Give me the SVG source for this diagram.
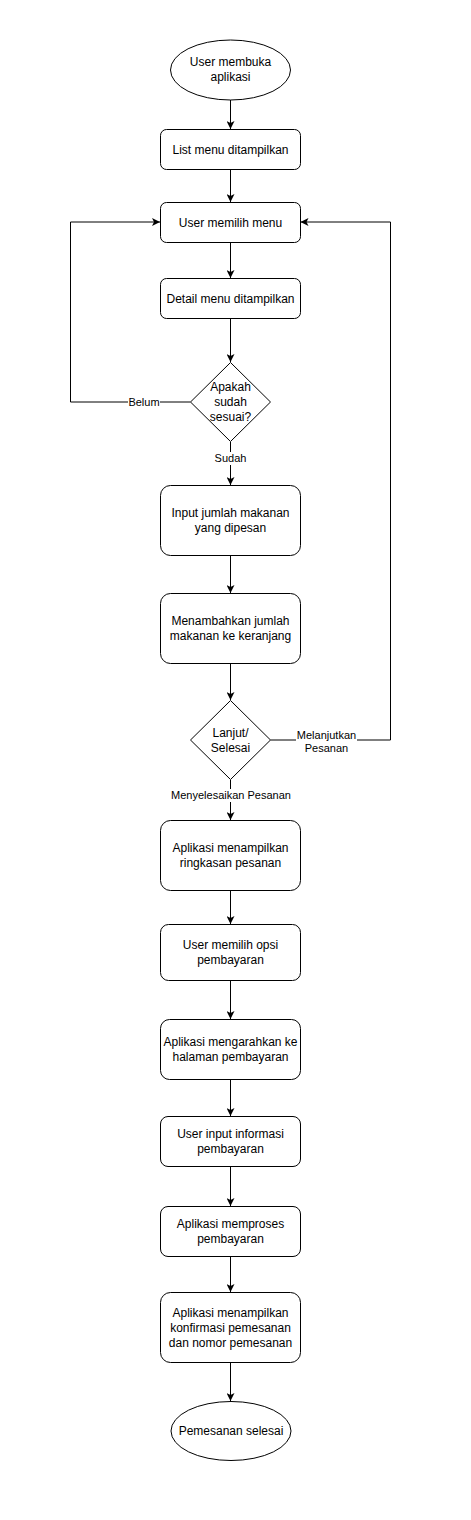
<svg xmlns="http://www.w3.org/2000/svg" width="471" height="1520" viewBox="0 0 471 1520">
<defs>
<marker id="arr" viewBox="0 0 10 10" refX="10" refY="5" markerWidth="8" markerHeight="8" markerUnits="userSpaceOnUse" orient="auto">
<path d="M0,0 L10,5 L0,10 L2.5,5 Z" fill="#000"/>
</marker>
<style>
.n{fill:#fff;stroke:#000;stroke-width:1}
.t{font-family:"Liberation Sans",Arial,sans-serif;font-size:12px;fill:#000;text-anchor:middle}
.l{font-family:"Liberation Sans",Arial,sans-serif;font-size:11px;fill:#000;text-anchor:middle}
.e{fill:none;stroke:#000;stroke-width:1}
.bg{fill:#fff}
</style>
</defs>
<rect width="471" height="1520" fill="#fff"/>
<g id="connectors">
<path class="e" d="M230.5,100 V129" marker-end="url(#arr)"/>
<path class="e" d="M230.5,169 V202" marker-end="url(#arr)"/>
<path class="e" d="M230.5,242 V278" marker-end="url(#arr)"/>
<path class="e" d="M230.5,318 V362" marker-end="url(#arr)"/>
<path class="e" d="M190.5,402 H70.5 V222 H160" marker-end="url(#arr)"/>
<path class="e" d="M230.5,442 V485" marker-end="url(#arr)"/>
<path class="e" d="M230.5,555 V593" marker-end="url(#arr)"/>
<path class="e" d="M230.5,663 V700" marker-end="url(#arr)"/>
<path class="e" d="M270.5,740 H390.5 V222 H300.5" marker-end="url(#arr)"/>
<path class="e" d="M230.5,780 V820" marker-end="url(#arr)"/>
<path class="e" d="M230.5,890 V924" marker-end="url(#arr)"/>
<path class="e" d="M230.5,980 V1019" marker-end="url(#arr)"/>
<path class="e" d="M230.5,1079 V1116" marker-end="url(#arr)"/>
<path class="e" d="M230.5,1166 V1206" marker-end="url(#arr)"/>
<path class="e" d="M230.5,1256 V1292" marker-end="url(#arr)"/>
<path class="e" d="M230.5,1362 V1401" marker-end="url(#arr)"/>
<rect class="bg" x="128" y="396" width="32" height="13"/>
<text class="l" x="144" y="406">Belum</text>
<rect class="bg" x="213" y="452" width="35" height="13"/>
<text class="l" x="230.5" y="462">Sudah</text>
<rect class="bg" x="296" y="729" width="61" height="26"/>
<text class="l" x="326.5" y="739">Melanjutkan</text>
<text class="l" x="326.5" y="752">Pesanan</text>
<rect class="bg" x="170" y="789" width="122" height="13"/>
<text class="l" x="231" y="799">Menyelesaikan Pesanan</text>
</g>
<g id="start">
<ellipse class="n" cx="230.5" cy="70" rx="60" ry="30"/>
<text class="t" x="230.5" y="66">User membuka</text>
<text class="t" x="230.5" y="81">aplikasi</text>
</g>
<g id="list-menu">
<rect class="n" x="160.5" y="129.5" width="140" height="40" rx="6"/>
<text class="t" x="230.5" y="154">List menu ditampilkan</text>
</g>
<g id="pilih-menu">
<rect class="n" x="160.5" y="202.5" width="140" height="40" rx="6"/>
<text class="t" x="230.5" y="227">User memilih menu</text>
</g>
<g id="detail-menu">
<rect class="n" x="160.5" y="278.5" width="140" height="40" rx="6"/>
<text class="t" x="230.5" y="303">Detail menu ditampilkan</text>
</g>
<g id="sesuai">
<path class="n" d="M230.5,362.5 L270.5,402 L230.5,441.5 L190.5,402 Z"/>
<text class="t" x="230.5" y="391">Apakah</text>
<text class="t" x="230.5" y="406">sudah</text>
<text class="t" x="230.5" y="421">sesuai?</text>
</g>
<g id="input-jumlah">
<rect class="n" x="160.5" y="485.5" width="140" height="70" rx="10"/>
<text class="t" x="230.5" y="517">Input jumlah makanan</text>
<text class="t" x="230.5" y="532">yang dipesan</text>
</g>
<g id="tambah-keranjang">
<rect class="n" x="160.5" y="593.5" width="140" height="70" rx="10"/>
<text class="t" x="230.5" y="625">Menambahkan jumlah</text>
<text class="t" x="230.5" y="640">makanan ke keranjang</text>
</g>
<g id="lanjut-selesai">
<path class="n" d="M230.5,700.5 L270.5,740 L230.5,779.5 L190.5,740 Z"/>
<text class="t" x="230.5" y="737">Lanjut/</text>
<text class="t" x="230.5" y="752">Selesai</text>
</g>
<g id="ringkasan">
<rect class="n" x="160.5" y="820.5" width="140" height="70" rx="10"/>
<text class="t" x="230.5" y="852">Aplikasi menampilkan</text>
<text class="t" x="230.5" y="867">ringkasan pesanan</text>
</g>
<g id="opsi-bayar">
<rect class="n" x="160.5" y="924.5" width="140" height="56" rx="8"/>
<text class="t" x="230.5" y="949">User memilih opsi</text>
<text class="t" x="230.5" y="964">pembayaran</text>
</g>
<g id="halaman-bayar">
<rect class="n" x="160.5" y="1019.5" width="140" height="60" rx="9"/>
<text class="t" x="230.5" y="1046">Aplikasi mengarahkan ke</text>
<text class="t" x="230.5" y="1061">halaman pembayaran</text>
</g>
<g id="input-info">
<rect class="n" x="160.5" y="1116.5" width="140" height="50" rx="7.5"/>
<text class="t" x="230.5" y="1138">User input informasi</text>
<text class="t" x="230.5" y="1153">pembayaran</text>
</g>
<g id="proses-bayar">
<rect class="n" x="160.5" y="1206.5" width="140" height="50" rx="7.5"/>
<text class="t" x="230.5" y="1228">Aplikasi memproses</text>
<text class="t" x="230.5" y="1243">pembayaran</text>
</g>
<g id="konfirmasi">
<rect class="n" x="160.5" y="1292.5" width="140" height="70" rx="10"/>
<text class="t" x="230.5" y="1317">Aplikasi menampilkan</text>
<text class="t" x="230.5" y="1332">konfirmasi pemesanan</text>
<text class="t" x="230.5" y="1347">dan nomor pemesanan</text>
</g>
<g id="end">
<ellipse class="n" cx="231" cy="1431" rx="60" ry="29.5"/>
<text class="t" x="231" y="1435">Pemesanan selesai</text>
</g>
</svg>
